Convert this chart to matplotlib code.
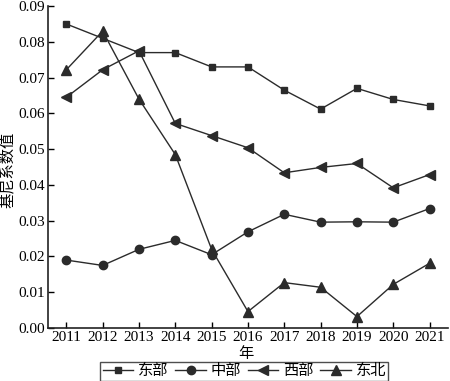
import matplotlib
matplotlib.use("Agg")
import matplotlib.pyplot as plt

plt.rcParams['font.family'] = ['Liberation Serif', 'Noto Sans CJK SC']

years = [2011, 2012, 2013, 2014, 2015, 2016, 2017, 2018, 2019, 2020, 2021]
east = [0.085, 0.081, 0.077, 0.077, 0.073, 0.073, 0.0665, 0.0612, 0.067, 0.0639, 0.0621]
central = [0.019, 0.0175, 0.022, 0.0245, 0.0205, 0.0269, 0.0318, 0.0296, 0.0297, 0.0296, 0.0334]
west = [0.0645, 0.0722, 0.0775, 0.0572, 0.0538, 0.0504, 0.0434, 0.0449, 0.046, 0.0392, 0.0429]
northeast = [0.0722, 0.083, 0.064, 0.0485, 0.022, 0.0046, 0.0127, 0.0114, 0.0032, 0.0122, 0.0181]
names = ['东部', '中部', '西部', '东北']
yticks = [0.00, 0.01, 0.02, 0.03, 0.04, 0.05, 0.06, 0.07, 0.08, 0.09]

fig = plt.figure(figsize=(4.5, 3.81), dpi=100)
ax = fig.add_axes([0.107, 0.139, 0.888, 0.845])

c = '#2b2b2b'
series = [east, central, west, northeast]
markers = ['s', 'o', '<', '^']
sizes = [5, 6, 6.5, 6.5]
for vals, m, s, n in zip(series, markers, sizes, names):
    ax.plot(years, vals, color=c, lw=1.0, marker=m, ms=s, mfc=c, mec=c, label=n)

ax.set_xlim(2010.5, 2021.5)
ax.set_ylim(0, 0.09)
ax.set_xticks(years)
ax.set_xticklabels([str(y) for y in years], fontsize=11)
ax.set_yticks(yticks)
ax.set_yticklabels([f'{v:.2f}' for v in yticks], fontsize=11)
ax.tick_params(axis='x', direction='in', length=4, width=1, pad=2)
ax.tick_params(axis='y', direction='in', length=4, width=1, pad=2)
for sp in ['top', 'right']:
    ax.spines[sp].set_visible(False)
for sp in ['left', 'bottom']:
    ax.spines[sp].set_linewidth(1.2)
    ax.spines[sp].set_color('#222222')

ax.set_xlabel('年', fontsize=11)
ax.xaxis.set_label_coords(0.494, -0.058)
ax.set_ylabel('基尼系数值', fontsize=11)
ax.yaxis.set_label_coords(-0.083, 0.49)

leg = ax.legend(loc='upper center', bbox_to_anchor=(0.543, 0.05),
                bbox_transform=fig.transFigure, ncol=4,
                frameon=True, fancybox=False, edgecolor='#222222', fontsize=11,
                handlelength=2.0, handletextpad=0.3, columnspacing=0.45,
                borderpad=0.15, borderaxespad=0)
leg.get_frame().set_linewidth(1.0)

fig.savefig('out.png', dpi=100)
